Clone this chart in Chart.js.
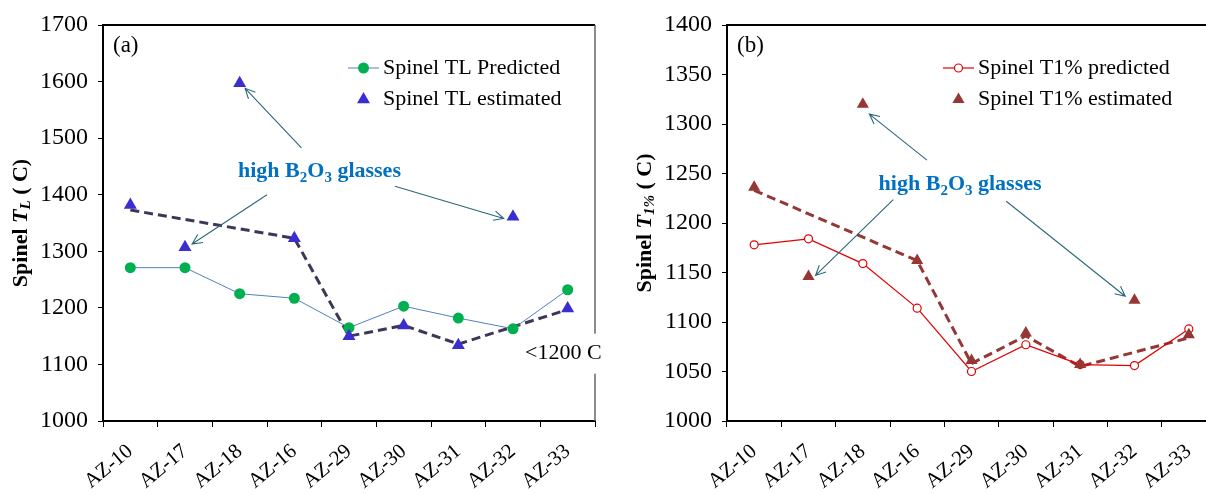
<!DOCTYPE html>
<html>
<head>
<meta charset="utf-8">
<script src="https://cdn.jsdelivr.net/npm/chart.js@4.4.1/dist/chart.umd.min.js"></script>
<style>
  body { margin: 0; background: #fff; overflow: hidden; width: 1206px; height: 494px; position: relative; }
  #wrapA { position: absolute; left: 0; top: 0; width: 603px; height: 494px; }
  #wrapB { position: absolute; left: 603px; top: 0; width: 620px; height: 494px; }
</style>
</head>
<body>
<div id="wrapA"><canvas id="chartA"></canvas></div>
<div id="wrapB"><canvas id="chartB"></canvas></div>
<script>
const samples = ["AZ-10", "AZ-17", "AZ-18", "AZ-16", "AZ-29", "AZ-30", "AZ-31", "AZ-32", "AZ-33"];

// (a) spinel liquidus temperature
const tlPredicted = [1271, 1271, 1225, 1217, 1165, 1203, 1182, 1163, 1232];
const tlEstimated = [1382, 1307, 1597, 1323, 1150, 1169, 1134, 1361, 1199];
const tlTrend = [1373, null, null, 1323, 1150, 1169, 1136, null, 1197];
const tlAxis = [1000, 1700, 100];

// (b) spinel T1%
const t1Predicted = [1178, 1184, 1159, 1114, 1050, 1077, 1057, 1056, 1093];
const t1Estimated = [1236, 1146, 1320, 1162, 1061, 1089, 1057, 1122, 1087];
const t1Trend = [1233, null, null, 1162, 1058, 1086, 1055, null, 1084];
const t1Axis = [1000, 1400, 50];

const SERIF = "'Liberation Serif', 'Times New Roman', serif";

function marker(ctx, style, x, y, r, fill, stroke, lw) {
  ctx.beginPath();
  if (style === "triangle") {
    ctx.moveTo(x, y - r);
    ctx.lineTo(x + r * 0.866, y + r * 0.5);
    ctx.lineTo(x - r * 0.866, y + r * 0.5);
    ctx.closePath();
  } else {
    ctx.arc(x, y, r, 0, Math.PI * 2);
  }
  ctx.fillStyle = fill;
  ctx.fill();
  if (stroke) { ctx.strokeStyle = stroke; ctx.lineWidth = lw; ctx.stroke(); }
}

function arrow(ctx, x1, y1, x2, y2) {
  const ang = Math.atan2(y2 - y1, x2 - x1);
  const h = 11, w = 0.45;
  ctx.beginPath();
  ctx.moveTo(x1, y1);
  ctx.lineTo(x2, y2);
  ctx.moveTo(x2 - h * Math.cos(ang - w), y2 - h * Math.sin(ang - w));
  ctx.lineTo(x2, y2);
  ctx.lineTo(x2 - h * Math.cos(ang + w), y2 - h * Math.sin(ang + w));
  ctx.stroke();
}

const decor = {
  id: "decor",
  beforeDatasetsDraw(chart, args, o) {
    const { ctx, chartArea: a } = chart;
    ctx.save();
    ctx.strokeStyle = "#000";
    ctx.lineWidth = 2;
    ctx.beginPath(); ctx.moveTo(a.left, a.top); ctx.lineTo(a.right, a.top); ctx.stroke();
    ctx.strokeStyle = "#666";
    ctx.lineWidth = 1.5;
    ctx.beginPath(); ctx.moveTo(a.right, a.top); ctx.lineTo(a.right, a.bottom); ctx.stroke();
    ctx.restore();
  },
  afterDraw(chart, args, o) {
    const { ctx, chartArea: a, scales: { x, y } } = chart;
    ctx.save();

    // panel letter
    ctx.fillStyle = "#000";
    ctx.font = "23px " + SERIF;
    ctx.textBaseline = "middle";
    ctx.textAlign = "left";
    ctx.fillText(o.panel, a.left + 10, a.top + 21);

    // legend
    o.legend.forEach((item, i) => {
      const ds = chart.data.datasets[item.ds];
      const ly = a.top + 43 + i * 31.5;
      const lx = a.left + o.legendX;
      if (item.line) {
        ctx.strokeStyle = ds.borderColor;
        ctx.lineWidth = ds.borderWidth;
        ctx.beginPath(); ctx.moveTo(lx, ly); ctx.lineTo(lx + 31, ly); ctx.stroke();
      }
      marker(ctx, ds.pointStyle, lx + 15.5, ly, ds.pointRadius, ds.pointBackgroundColor,
        ds.pointBorderWidth ? ds.pointBorderColor : null, ds.pointBorderWidth);
      ctx.fillStyle = "#000";
      ctx.font = "22px " + SERIF;
      ctx.textBaseline = "middle";
      ctx.fillText(ds.label, lx + 35, ly);
    });

    // arrows
    ctx.strokeStyle = "#2b6878";
    ctx.lineWidth = 1.1;
    o.arrows.forEach(ar => {
      arrow(ctx, x.getPixelForValue(ar[0]), y.getPixelForValue(ar[1]),
        x.getPixelForValue(ar[2]), y.getPixelForValue(ar[3]));
    });

    // annotation "high B2O3 glasses"
    const parts = [["high B", 22, 0], ["2", 15, 5], ["O", 22, 0], ["3", 15, 5], [" glasses", 22, 0]];
    let tw = 0;
    parts.forEach(p => { ctx.font = "bold " + p[1] + "px " + SERIF; tw += ctx.measureText(p[0]).width; });
    let tx = x.getPixelForValue(o.textAt[0]) - tw / 2;
    const ty = y.getPixelForValue(o.textAt[1]);
    ctx.fillStyle = "#0070C0";
    ctx.textBaseline = "alphabetic";
    parts.forEach(p => {
      ctx.font = "bold " + p[1] + "px " + SERIF;
      ctx.fillText(p[0], tx, ty + 7 + p[2]);
      tx += ctx.measureText(p[0]).width;
    });

    // note box
    if (o.note) {
      const nx = x.getPixelForValue(o.note.at[0]);
      const ny = y.getPixelForValue(o.note.at[1]);
      ctx.fillStyle = "#fff";
      ctx.fillRect(nx - 3, ny - 20, 90, 40);
      ctx.fillStyle = "#000";
      ctx.font = "22px " + SERIF;
      ctx.textBaseline = "middle";
      ctx.fillText(o.note.text, nx, ny);
    }

    // y axis title with italic subscript
    ctx.translate(a.left - o.titleOffset, (a.top + a.bottom) / 2);
    ctx.rotate(-Math.PI / 2);
    const tp = o.title;
    let w = 0;
    tp.forEach(p => { ctx.font = p[1] + " " + p[2] + "px " + SERIF; w += ctx.measureText(p[0]).width; });
    let px = -w / 2;
    ctx.fillStyle = "#000";
    ctx.textBaseline = "middle";
    tp.forEach(p => {
      ctx.font = p[1] + " " + p[2] + "px " + SERIF;
      ctx.fillText(p[0], px, p[3]);
      px += ctx.measureText(p[0]).width;
    });
    ctx.restore();
  }
};

function makeChart(id, cfg) {
  return new Chart(document.getElementById(id), {
    type: "line",
    data: {
      labels: samples,
      datasets: [
        {
          label: cfg.predLabel, data: cfg.pred,
          borderColor: cfg.predLine, borderWidth: cfg.predWidth,
          pointStyle: "circle", pointRadius: cfg.predRadius,
          pointBackgroundColor: cfg.predFill, pointBorderColor: cfg.predStroke,
          pointBorderWidth: cfg.predBorder, pointHoverRadius: cfg.predRadius, order: 2
        },
        {
          label: cfg.estLabel, data: cfg.est, showLine: false,
          pointStyle: "triangle", pointRadius: cfg.triRadius,
          pointBackgroundColor: cfg.estColor, pointBorderColor: cfg.estColor,
          pointBorderWidth: 0, order: 1
        },
        {
          label: "trend", data: cfg.trend, spanGaps: true,
          borderColor: cfg.trendColor, borderWidth: 3, borderDash: [9, 5],
          pointRadius: 0, order: 3
        }
      ]
    },
    options: {
      responsive: true,
      maintainAspectRatio: false,
      animation: false,
      layout: { padding: { top: 25, right: cfg.padRight, left: 0, bottom: 0 } },
      plugins: {
        legend: { display: false },
        tooltip: { enabled: false },
        decor: cfg.decor
      },
      scales: {
        x: {
          offset: true,
          grid: { offset: true, drawOnChartArea: false, drawTicks: true, tickLength: 6, color: "#000", lineWidth: 1 },
          border: { color: "#000", width: 2 },
          ticks: { maxRotation: 40, minRotation: 40, color: "#000", padding: 12, font: { family: SERIF, size: 21 } },
          afterFit(s) { s.height = 73; }
        },
        y: {
          min: cfg.axis[0], max: cfg.axis[1],
          grid: { drawOnChartArea: false, tickLength: 5, color: "#000", lineWidth: 1 },
          border: { color: "#000", width: 2 },
          ticks: {
            stepSize: cfg.axis[2], color: "#000", padding: 10,
            font: { family: SERIF, size: 24 },
            callback: v => String(v)
          },
          afterFit(s) { s.width = cfg.yWidth; }
        }
      }
    },
    plugins: [decor]
  });
}

makeChart("chartA", {
  predLabel: "Spinel TL Predicted", pred: tlPredicted,
  predLine: "#4F81BD", predWidth: 1, predRadius: 5.5,
  predFill: "#00B050", predStroke: "#00B050", predBorder: 0,
  estLabel: "Spinel TL estimated", est: tlEstimated, estColor: "#3A2ED0", triRadius: 7.5,
  trend: tlTrend, trendColor: "#3F3656",
  axis: tlAxis, yWidth: 103, padRight: 8,
  decor: {
    panel: "(a)", legendX: 245,
    legend: [{ ds: 0, line: true }, { ds: 1, line: false }],
    arrows: [[3.13, 1483, 2.10, 1588], [2.50, 1400, 1.13, 1313], [4.84, 1415, 6.83, 1358]],
    textAt: [3.46, 1443],
    note: { text: "<1200 C", at: [7.22, 1119] },
    titleOffset: 82,
    title: [["Spinel ", "bold", 22, 0], ["T", "italic bold", 22, 0], ["L", "italic bold", 15, 5], [" ( C)", "bold", 22, 0]]
  }
});

makeChart("chartB", {
  predLabel: "Spinel T1% predicted", pred: t1Predicted,
  predLine: "#E00000", predWidth: 1.2, predRadius: 4,
  predFill: "#ffffff", predStroke: "#E00000", predBorder: 1.2,
  estLabel: "Spinel T1% estimated", est: t1Estimated, estColor: "#953735", triRadius: 7,
  trend: t1Trend, trendColor: "#953735",
  axis: t1Axis, yWidth: 124, padRight: 7,
  decor: {
    panel: "(b)", legendX: 216,
    legend: [{ ds: 0, line: true }, { ds: 1, line: false }],
    arrows: [[3.18, 1263.5, 2.12, 1310], [2.56, 1223.7, 1.13, 1147], [4.64, 1222, 6.83, 1126]],
    textAt: [3.79, 1240.6],
    note: null,
    titleOffset: 82,
    title: [["Spinel ", "bold", 22, 0], ["T", "italic bold", 22, 0], ["1%", "italic bold", 15, 5], [" ( C)", "bold", 22, 0]]
  }
});
</script>
</body>
</html>
